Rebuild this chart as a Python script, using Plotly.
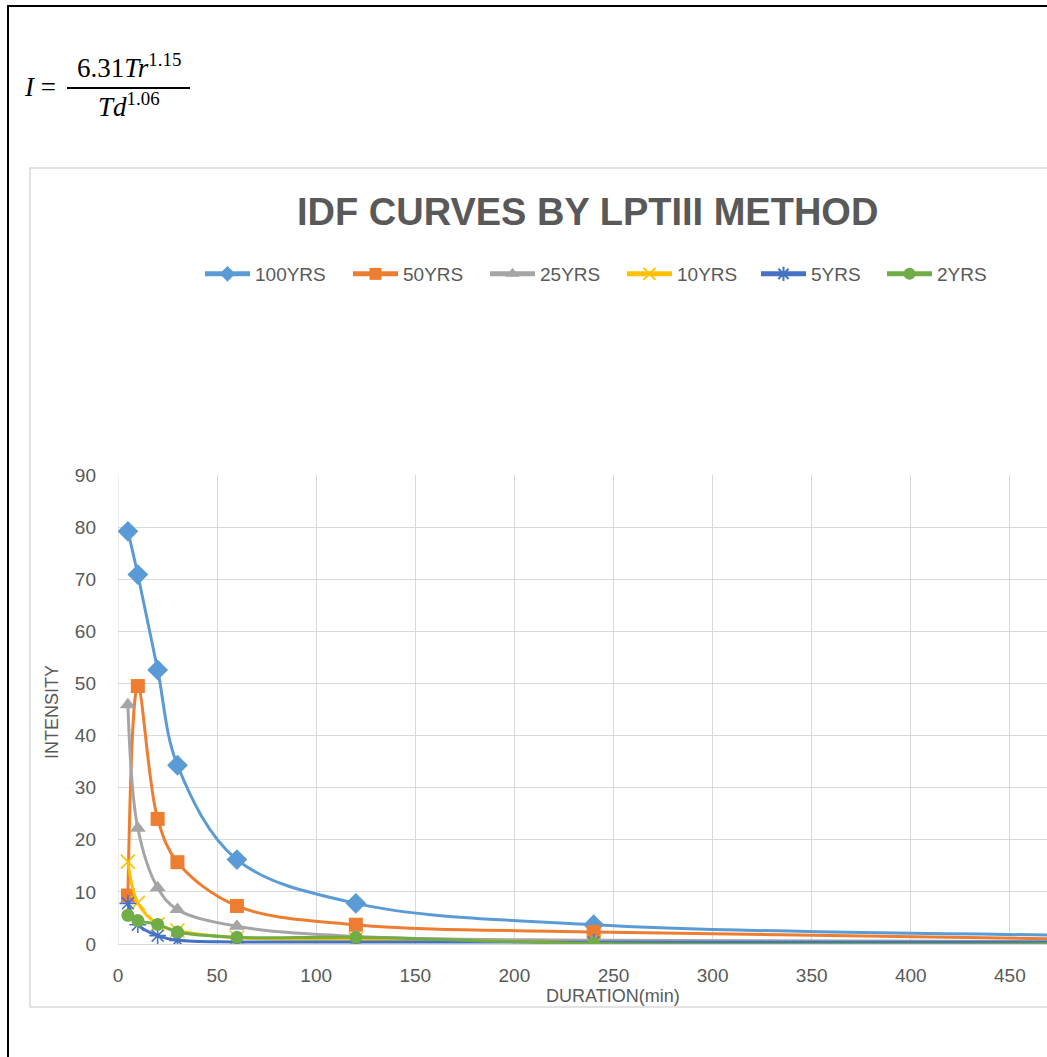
import plotly.graph_objects as go

# ---- data ----
durations = [5, 10, 20, 30, 60, 120, 240, 480]
series_names = ["100YRS", "50YRS", "25YRS", "10YRS", "5YRS", "2YRS"]
yrs100 = [79.2, 70.9, 52.6, 34.3, 16.2, 7.8, 3.7, 1.7]
yrs50 = [9.3, 49.5, 24.0, 15.7, 7.3, 3.7, 2.3, 0.95]
yrs25 = [45.9, 22.2, 10.8, 6.6, 3.4, 1.45, 0.7, 0.45]
yrs10 = [15.8, 7.9, 3.8, 2.6, 1.2, 0.9, 0.3, 0.2]
yrs5 = [7.8, 3.7, 1.6, 0.7, 0.4, 0.4, 0.35, 0.35]
yrs2 = [5.5, 4.5, 3.75, 2.3, 1.3, 1.3, 0.1, 0.0]
values = [yrs100, yrs50, yrs25, yrs10, yrs5, yrs2]
x_ticks = [0, 50, 100, 150, 200, 250, 300, 350, 400, 450, 500]
y_ticks = [0, 10, 20, 30, 40, 50, 60, 70, 80, 90]

colors = ["#5B9BD5", "#ED7D31", "#A5A5A5", "#FFC000", "#4472C4", "#70AD47"]
symbols = ["diamond", "square", "triangle-up", "x-thin-open", "asterisk-open", "circle"]
sizes = [16, 14, 14, 14, 14, 13]
legend_text_x = [255, 403, 540, 677, 811, 937]  # left edge of each legend label (px)

W, H = 1047, 1057
L, R, T, B = 118, 0, 475, 113
PW, PH = W - L - R, H - T - B
TXT = "#595959"
FONT = "Liberation Sans"


def px(x):
    return (x - L) / PW


def py(y):
    return (H - B - y) / PH


fig = go.Figure()
legend_ids = ["legend", "legend2", "legend3", "legend4", "legend5", "legend6"]
for i, (name, vals, c, s, sz) in enumerate(zip(series_names, values, colors, symbols, sizes)):
    open_sym = s.endswith("open")
    fig.add_trace(go.Scatter(
        x=durations, y=vals, name=name, mode="lines+markers",
        line=dict(color=c, width=3, shape="spline", smoothing=1.0),
        marker=dict(symbol=s, size=sz, color=c,
                    line=dict(color=c, width=1.6 if open_sym else 0)),
        cliponaxis=True, legend=legend_ids[i],
    ))

legend_layouts = {}
for i, lid in enumerate(legend_ids):
    legend_layouts[lid] = dict(
        orientation="h", xref="container", yref="container",
        x=(legend_text_x[i] - 55) / W, y=1 - 274 / H, xanchor="left", yanchor="middle",
        font=dict(family=FONT, size=19, color=TXT), itemwidth=45,
        itemsizing="constant", bgcolor="rgba(0,0,0,0)", borderwidth=0,
    )

fig.update_layout(
    width=W, height=H,
    margin=dict(l=L, r=R, t=T, b=B),
    paper_bgcolor="white", plot_bgcolor="white",
    showlegend=True,
    **legend_layouts,
    xaxis=dict(range=[0, PW / 1.982], tickvals=x_ticks, showgrid=True,
               gridcolor="#D9D9D9", gridwidth=1, zeroline=False,
               showline=False, ticks="", ticklabelstandoff=18,
               tickfont=dict(family=FONT, size=19, color=TXT)),
    yaxis=dict(range=[0, 90], tickvals=y_ticks, showgrid=True,
               gridcolor="#D9D9D9", gridwidth=1, zeroline=True, zerolinecolor="#D9D9D9",
               zerolinewidth=1, showline=False, ticks="", ticklabelstandoff=21,
               tickfont=dict(family=FONT, size=19, color=TXT)),
)

fig.add_shape(type="line", xref="x", yref="y", x0=0, x1=0, y0=0, y1=90,
              line=dict(color="#D9D9D9", width=1), layer="below")

# outer black frame (left and top)
fig.add_shape(type="line", xref="paper", yref="paper", x0=px(8), x1=px(8), y0=py(5), y1=py(H + 5),
              line=dict(color="black", width=2))
fig.add_shape(type="line", xref="paper", yref="paper", x0=px(7), x1=px(W + 5), y0=py(6), y1=py(6),
              line=dict(color="black", width=2))
# chart area border
fig.add_shape(type="rect", xref="paper", yref="paper", x0=px(30), x1=px(W + 20), y0=py(1007), y1=py(168),
              line=dict(color="#D9D9D9", width=1.5), fillcolor="rgba(0,0,0,0)", layer="below")

# title
fig.add_annotation(xref="paper", yref="paper", x=px(587), y=py(212), xanchor="center", yanchor="middle",
                   text="<b>IDF CURVES BY LPTIII METHOD</b>", showarrow=False,
                   font=dict(family="Liberation Sans", size=38, color=TXT))

# axis titles
fig.add_annotation(xref="paper", yref="paper", x=px(613), y=py(996), xanchor="center", yanchor="middle",
                   text="DURATION(min)", showarrow=False, font=dict(family=FONT, size=18, color=TXT))
fig.add_annotation(xref="paper", yref="paper", x=px(52), y=py(712), xanchor="center", yanchor="middle",
                   text="INTENSITY", textangle=-90, showarrow=False, font=dict(family=FONT, size=18, color=TXT))

# formula
SERIF = "Liberation Serif"
fig.add_annotation(xref="paper", yref="paper", x=px(40), y=py(87), xanchor="center", yanchor="middle",
                   text="<i>I</i> =", showarrow=False, font=dict(family=SERIF, size=27, color="black"))
fig.add_annotation(xref="paper", yref="paper", x=px(129), y=py(66), xanchor="center", yanchor="middle",
                   text="6.31<i>Tr</i><sup>1.15</sup>", showarrow=False,
                   font=dict(family=SERIF, size=27, color="black"))
fig.add_annotation(xref="paper", yref="paper", x=px(129), y=py(105), xanchor="center", yanchor="middle",
                   text="<i>Td</i><sup>1.06</sup>", showarrow=False,
                   font=dict(family=SERIF, size=27, color="black"))
fig.add_shape(type="line", xref="paper", yref="paper", x0=px(67), x1=px(190), y0=py(88), y1=py(88),
              line=dict(color="black", width=2))

fig.write_html(
    "out.html",
    config={"displayModeBar": False},
    post_script="document.body.style.margin='0px';document.body.style.overflow='hidden';"
                "document.documentElement.style.overflow='hidden';",
)
